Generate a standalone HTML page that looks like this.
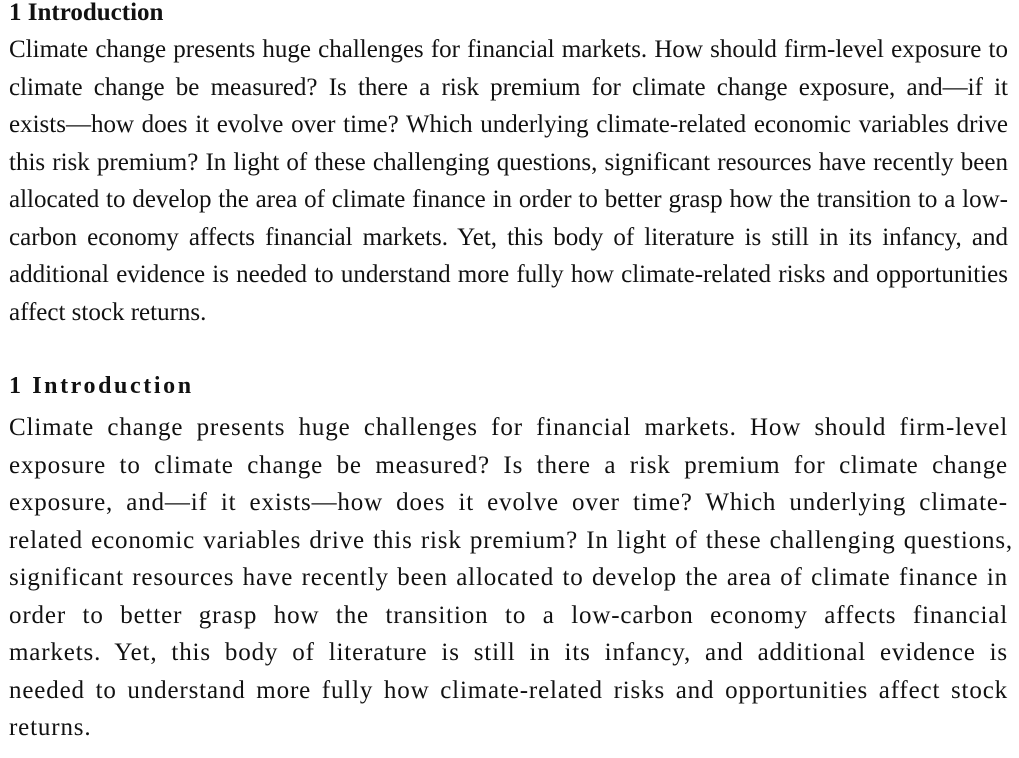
<!DOCTYPE html>
<html>
<head>
<meta charset="utf-8">
<style>
  html, body { margin: 0; padding: 0; background: #ffffff; }
  body { width: 1019px; height: 758px; position: relative; overflow: hidden; color: #111; font-family: "Liberation Serif", "DejaVu Serif", serif; }
  .h { position: absolute; left: 9px; font-weight: bold; white-space: nowrap; }
  .p { position: absolute; left: 9px; width: 999px; font-size: 25px; line-height: 37.5px; }
  .l { display: block; text-align: justify; text-align-last: justify; white-space: nowrap; }
  .last { text-align-last: left; }
  .cm .l { letter-spacing: 0.85px; }
</style>
</head>
<body>
  <div class="h" style="top:0px;font-size:25px;line-height:26px;">1 Introduction</div>
  <div class="p" style="top:31px;">
    <span class="l">Climate change presents huge challenges for financial markets. How should firm-level exposure to</span>
    <span class="l">climate change be measured? Is there a risk premium for climate change exposure, and—if it</span>
    <span class="l">exists—how does it evolve over time? Which underlying climate-related economic variables drive</span>
    <span class="l">this risk premium? In light of these challenging questions, significant resources have recently been</span>
    <span class="l">allocated to develop the area of climate finance in order to better grasp how the transition to a low-</span>
    <span class="l">carbon economy affects financial markets. Yet, this body of literature is still in its infancy, and</span>
    <span class="l">additional evidence is needed to understand more fully how climate-related risks and opportunities</span>
    <span class="l last">affect stock returns.</span>
  </div>

  <div class="h" style="top:373px;font-size:24px;line-height:26px;letter-spacing:2.6px;">1 Introduction</div>
  <div class="p cm" style="top:409px;">
    <span class="l">Climate change presents huge challenges for financial markets. How should firm-level</span>
    <span class="l">exposure to climate change be measured? Is there a risk premium for climate change</span>
    <span class="l">exposure, and—if it exists—how does it evolve over time? Which underlying climate-</span>
    <span class="l" style="width:1004px;">related economic variables drive this risk premium? In light of these challenging questions,</span>
    <span class="l">significant resources have recently been allocated to develop the area of climate finance in</span>
    <span class="l">order to better grasp how the transition to a low-carbon economy affects financial</span>
    <span class="l">markets. Yet, this body of literature is still in its infancy, and additional evidence is</span>
    <span class="l">needed to understand more fully how climate-related risks and opportunities affect stock</span>
    <span class="l last">returns.</span>
  </div>
</body>
</html>
